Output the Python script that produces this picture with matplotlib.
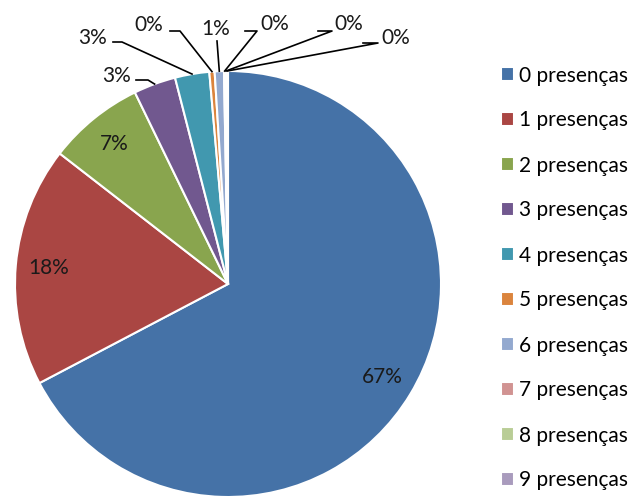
import matplotlib.pyplot as plt
import numpy as np

labels = ['0 presenças', '1 presenças', '2 presenças', '3 presenças', '4 presenças',
          '5 presenças', '6 presenças', '7 presenças', '8 presenças', '9 presenças']
values = [67.3, 18.2, 7.3, 3.2, 2.6, 0.4, 0.7, 0.1, 0.1, 0.1]
colors = ['#4572A7', '#AA4643', '#89A54E', '#71588F', '#4198AF',
          '#DB843D', '#93A9CF', '#D19392', '#B9CD96', '#A99BBD']

plt.rcParams['font.family'] = ['Lato', 'DejaVu Sans']

W, H = 637, 497
cx, cy, R = 228, 284, 213

fig = plt.figure(figsize=(W / 100, H / 100), dpi=100)
ax = fig.add_axes([(cx - R) / W, (H - cy - R) / H, 2 * R / W, 2 * R / H])

wedges, _ = ax.pie(values, colors=colors, startangle=90, counterclock=False,
                   wedgeprops=dict(edgecolor='white', linewidth=1.5))
ax.set_xlim(-1, 1)
ax.set_ylim(-1, 1)
ax.set_aspect('equal')
ax.axis('off')


def px(x, y):
    return (x - cx) / R, (cy - y) / R


total = sum(values)
pct = [f'{round(v / total * 100):.0f}%' for v in values]
fs = 15

# labels inside the big slices
for i in range(3):
    w = wedges[i]
    a = np.deg2rad((w.theta1 + w.theta2) / 2)
    ax.text(0.845 * np.cos(a), 0.845 * np.sin(a), pct[i], ha='center', va='center',
            fontsize=fs, color='#1a1a1a')

# leader lines for the small slices: (text x, text y, elbow points in pixels)
leaders = {
    3: (117, 76, [(136, 80), (148, 80)]),
    4: (93, 38, [(113, 42), (122, 42)]),
    5: (149, 25, [(170, 31), (180, 31)]),
    6: (216, 29, [(217, 41)]),
    7: (275, 24, [(245, 31), (257, 31)]),
    8: (349, 24, [(318, 31), (332, 31)]),
    9: (396, 38, [(363, 43), (378, 43)]),
}
for i, (tx, ty, pts) in leaders.items():
    w = wedges[i]
    a = np.deg2rad((w.theta1 + w.theta2) / 2)
    xs = [px(*p)[0] for p in pts] + [np.cos(a)]
    ys = [px(*p)[1] for p in pts] + [np.sin(a)]
    ax.plot(xs, ys, color='black', linewidth=1.2, clip_on=False)
    ax.text(*px(tx, ty), pct[i], ha='center', va='center', fontsize=fs, color='#1a1a1a')

fig.legend(wedges, labels, loc='center left', bbox_to_anchor=(491 / W, 1 - 278 / H),
           frameon=False, fontsize=15, handlelength=0.62, handleheight=0.62,
           handletextpad=0.2, labelspacing=1.2, borderpad=0)

fig.savefig('out.png', dpi=100)
